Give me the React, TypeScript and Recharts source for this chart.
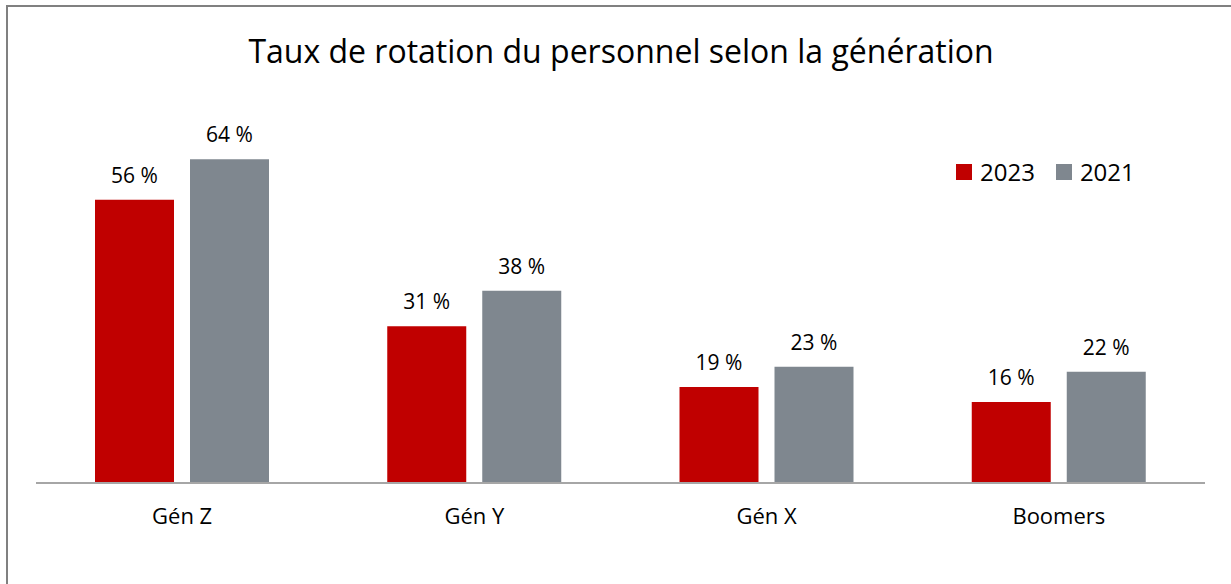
import React from "react";
import { BarChart, Bar, XAxis, YAxis, LabelList } from "recharts";

const categories = ["Gén Z", "Gén Y", "Gén X", "Boomers"];
const values2023 = [56, 31, 19, 16];
const values2021 = [64, 38, 23, 22];
const seriesNames = ["2023", "2021"];
const colors = ["#C00000", "#7F878F"];

const data = categories.map((c, i) => ({ name: c, s2023: values2023[i], s2021: values2021[i] }));

const FONT = "'Open Sans', sans-serif";

const fmt = (v: number) => `${v} %`;

export default function App() {
  return (
    <div style={{ width: 1231, height: 584, margin: -8, background: "#fff" }}>
      <svg width={1231} height={584} style={{ position: "absolute", left: 0, top: 0, pointerEvents: "none" }}>
        <path d="M7,584 L7,6 L1231,6" fill="none" stroke="#808080" strokeWidth={2} />
      </svg>
      <div style={{ position: "absolute", left: 0, top: 0 }}>
        <BarChart
          width={1231}
          height={584}
          data={data}
          margin={{ top: 129, right: 26, bottom: 61, left: 36 }}
          barCategoryGap={59}
          barGap={16}
        >
          <text x={621} y={63} textAnchor="middle" fontFamily={FONT} fontSize={32} fill="#000">
            Taux de rotation du personnel selon la génération
          </text>
          <XAxis
            dataKey="name"
            height={40}
            tickSize={0}
            tickMargin={25}
            axisLine={{ stroke: "#A6A6A6", strokeWidth: 2 }}
            tickLine={false}
            tick={{ fontFamily: FONT, fontSize: 22, fill: "#000" }}
          />
          <YAxis hide domain={[0, 70]} />
          <Bar dataKey="s2023" name="2023" fill={colors[0]} isAnimationActive={false}>
            <LabelList dataKey="s2023" position="top" offset={17} formatter={fmt} style={{ fontFamily: FONT, fontSize: 21, fill: "#000" }} />
          </Bar>
          <Bar dataKey="s2021" name="2021" fill={colors[1]} isAnimationActive={false}>
            <LabelList dataKey="s2021" position="top" offset={17} formatter={fmt} style={{ fontFamily: FONT, fontSize: 21, fill: "#000" }} />
          </Bar>
        </BarChart>
      </div>
      <div
        style={{
          position: "absolute",
          left: 956,
          top: 156,
          display: "flex",
          alignItems: "center",
          fontFamily: FONT,
          fontSize: 24,
          lineHeight: "32px",
          color: "#000",
        }}
      >
        {seriesNames.map((n, i) => (
          <div key={n} style={{ display: "flex", alignItems: "center", marginRight: i === 0 ? 21 : 0 }}>
            <div style={{ width: 16, height: 16, background: colors[i], marginRight: 8 }} />
            <span>{n}</span>
          </div>
        ))}
      </div>
      <div
        style={{
          position: "absolute",
          left: 6,
          top: 5,
          width: 1225,
          height: 579,
          borderTop: "2px solid #808080",
          borderLeft: "2px solid #808080",
          boxSizing: "border-box",
          pointerEvents: "none",
        }}
      />
    </div>
  );
}
